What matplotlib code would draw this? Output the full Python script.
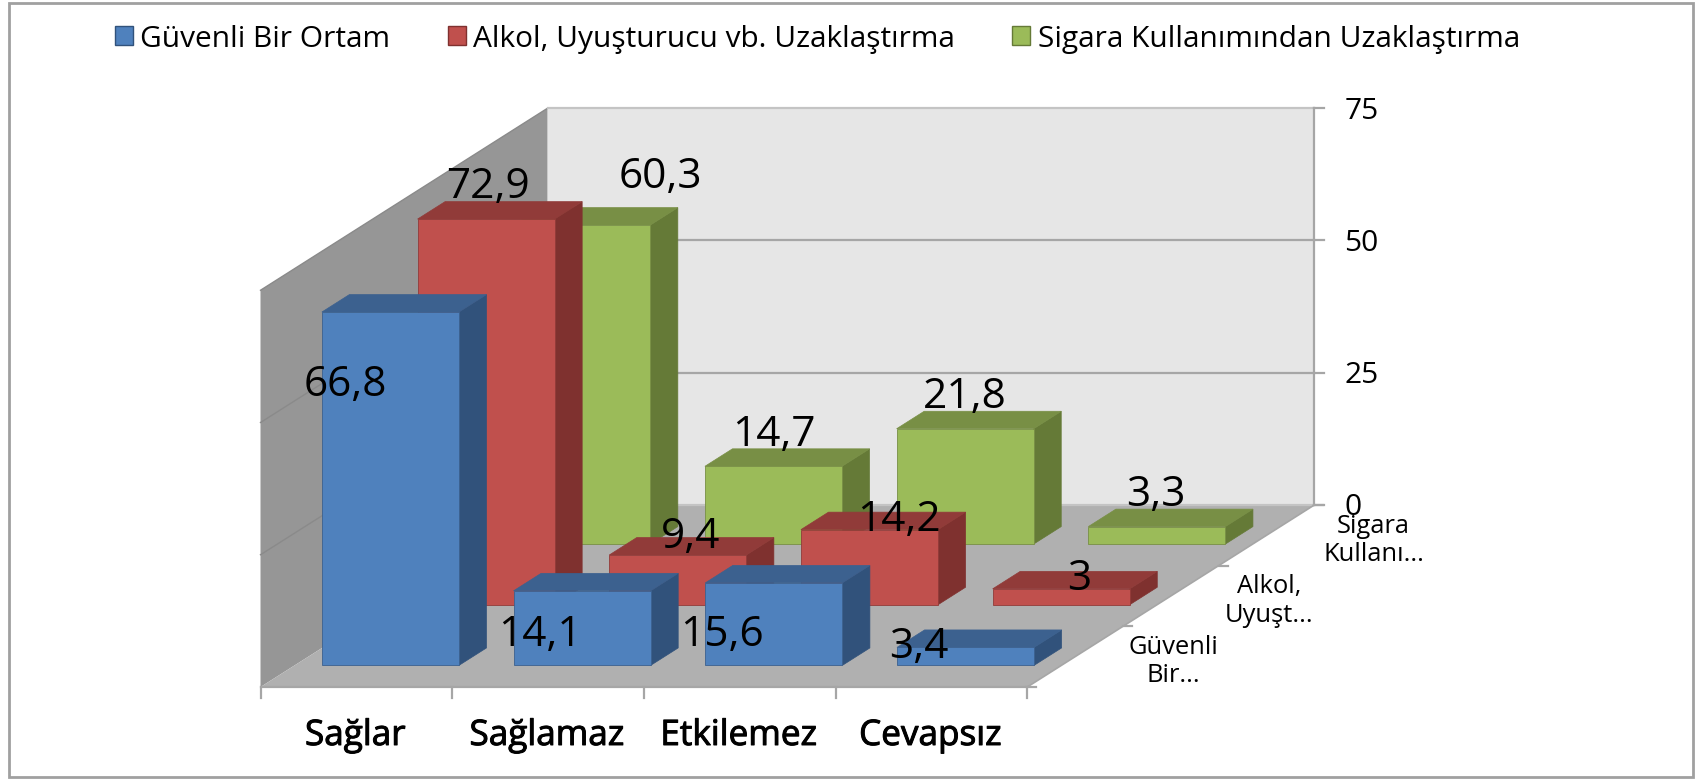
import matplotlib
matplotlib.use("Agg")
import matplotlib.pyplot as plt
import matplotlib.patheffects as pe
from matplotlib.patches import Polygon, Patch, Rectangle

categories = ["Sağlar", "Sağlamaz", "Etkilemez", "Cevapsız"]
series_names = ["Güvenli Bir Ortam", "Alkol, Uyuşturucu vb. Uzaklaştırma", "Sigara Kullanımından Uzaklaştırma"]
depth_labels = ["Güvenli\nBir...", "Alkol,\nUyuşt...", "Sigara\nKullanı..."]
guvenli = [66.8, 14.1, 15.6, 3.4]
alkol = [72.9, 9.4, 14.2, 3.0]
sigara = [60.3, 14.7, 21.8, 3.3]
z_ticks = [0, 25, 50, 75]

# face, side, top
blue = ("#4F81BD", "#31527B", "#3C618F")
red = ("#C0504D", "#7F312F", "#913B39")
green = ("#9BBB59", "#657A37", "#788F45")

# label nudges from the top middle of each front face, Excel put them all over
off_guvenli = [(-45, 70), (-42, 41), (-52, 49), (-47, -3)]
off_alkol = [(2, -35), (13, -21), (30, -13), (18, -13)]
off_sigara = [(79, -51), (0, -34), (0, -35), (-1, -35)]
depth_dx = [98, 98, 107]

# oblique projection, all in image pixels
X0, Y0 = 260.5, 687.0
CAT_W = 191.7
DEPTH_X, DEPTH_Y = 95.67, 60.67
Z_PX = 5.29
BAR_W = 0.715
BAR_D = 0.288


def proj(c, s, v=0):
    return (X0 + CAT_W * c + DEPTH_X * s, Y0 - DEPTH_Y * s - Z_PX * v)


def draw_bar(ax, c, s, v, cols):
    x1 = c + (1 - BAR_W) / 2
    x2 = x1 + BAR_W
    d1 = s + (1 - BAR_D) / 2
    d2 = d1 + BAR_D
    front = [proj(x1, d1), proj(x2, d1), proj(x2, d1, v), proj(x1, d1, v)]
    side = [proj(x2, d1), proj(x2, d2), proj(x2, d2, v), proj(x2, d1, v)]
    top = [proj(x1, d1, v), proj(x2, d1, v), proj(x2, d2, v), proj(x1, d2, v)]
    ax.add_patch(Polygon(side, fc=cols[1], ec=cols[1], lw=0.5, zorder=3))
    ax.add_patch(Polygon(top, fc=cols[2], ec=cols[2], lw=0.5, zorder=3))
    ax.add_patch(Polygon(front, fc=cols[0], ec=cols[2], lw=0.6, zorder=3))
    return (x1 + x2) / 2, d1


plt.rcParams["font.family"] = ["Open Sans", "DejaVu Sans"]
fig = plt.figure(figsize=(16.95, 7.79), dpi=100)
ax = fig.add_axes([0, 0, 1, 1])
ax.set_xlim(0, 1695)
ax.set_ylim(779, 0)
ax.axis("off")

ax.add_patch(Rectangle((9, 3), 1684, 774, fc="white", ec="#A0A0A0", lw=2))

n = len(categories)
nz = max(z_ticks)
ax.add_patch(Polygon([proj(0, 0), proj(0, 3), proj(0, 3, nz), proj(0, 0, nz)], fc="#969696", ec="none"))
ax.add_patch(Polygon([proj(0, 3), proj(n, 3), proj(n, 3, nz), proj(0, 3, nz)], fc="#E6E6E6", ec="none"))
ax.add_patch(Polygon([proj(0, 0), proj(n, 0), proj(n, 3), proj(0, 3)], fc="#B0B0B0", ec="none"))

line_col = "#A6A6A6"
for z in z_ticks:
    a, b, e = proj(0, 0, z), proj(0, 3, z), proj(n, 3, z)
    if z > 0:
        ax.plot([a[0], b[0]], [a[1], b[1]], color="#8A8A8A", lw=1)
    ax.plot([b[0], e[0]], [b[1], e[1]], color="#C4C4C4" if z in (0, nz) else line_col, lw=1.6)
    ax.plot([e[0], e[0] + 10], [e[1], e[1]], color=line_col, lw=1.6)
    ax.text(e[0] + 30, e[1] + 3, str(z), fontsize=21.5, ha="left", va="center", color="black", zorder=10)

# axis lines
a, b = proj(n, 3), proj(n, 3, nz)
ax.plot([a[0], b[0]], [a[1], b[1]], color=line_col, lw=1.6)
a, b = proj(0, 0), proj(n, 0)
ax.plot([a[0], b[0]], [a[1], b[1]], color=line_col, lw=1.6)
a, b = proj(n, 0), proj(n, 3)
ax.plot([a[0], b[0]], [a[1], b[1]], color=line_col, lw=1.2)

for i in range(n + 1):
    x, y = proj(i, 0)
    ax.plot([x, x], [y, y + 11], color=line_col, lw=1.6)
for s in range(4):
    x, y = proj(n, s)
    ax.plot([x, x + 9], [y, y], color=line_col, lw=1.6)

bars = [(sigara, green, off_sigara, 2), (alkol, red, off_alkol, 1), (guvenli, blue, off_guvenli, 0)]
labels = []
for vals, cols, offs, s in bars:
    for c, v in enumerate(vals):
        mx, d = draw_bar(ax, c, s, v, cols)
        x, y = proj(mx, d, v)
        labels.append((x + offs[c][0], y + offs[c][1] + 3, f"{v:g}".replace(".", ",")))

for x, y, t in labels:
    ax.text(x, y, t, fontsize=30.5, ha="center", va="center", color="black", zorder=10)

for i, name in enumerate(categories):
    x, y = proj(i + 0.5, 0)
    ax.text(x - 1, y + 49, name, fontsize=25.3, ha="center", va="center", color="black",
            path_effects=[pe.withStroke(linewidth=0.7, foreground="black")])

for s, name in enumerate(depth_labels):
    x, y = proj(n, s + 0.5)
    ax.text(x + depth_dx[s], y + 5, name, fontsize=18.4, ha="center", va="center", color="black",
            linespacing=1.16, zorder=11)

handles = [Patch(fc=c[0], ec=c[1], lw=1) for c in (blue, red, green)]
ax.legend(handles, series_names, loc="center left", bbox_to_anchor=(115, 39), bbox_transform=ax.transData,
          ncol=3, frameon=False, fontsize=21.5, borderpad=0, borderaxespad=0, handlelength=0.6,
          handleheight=0.6, handletextpad=0.25, columnspacing=1.92)

fig.savefig("out.png", dpi=100)
